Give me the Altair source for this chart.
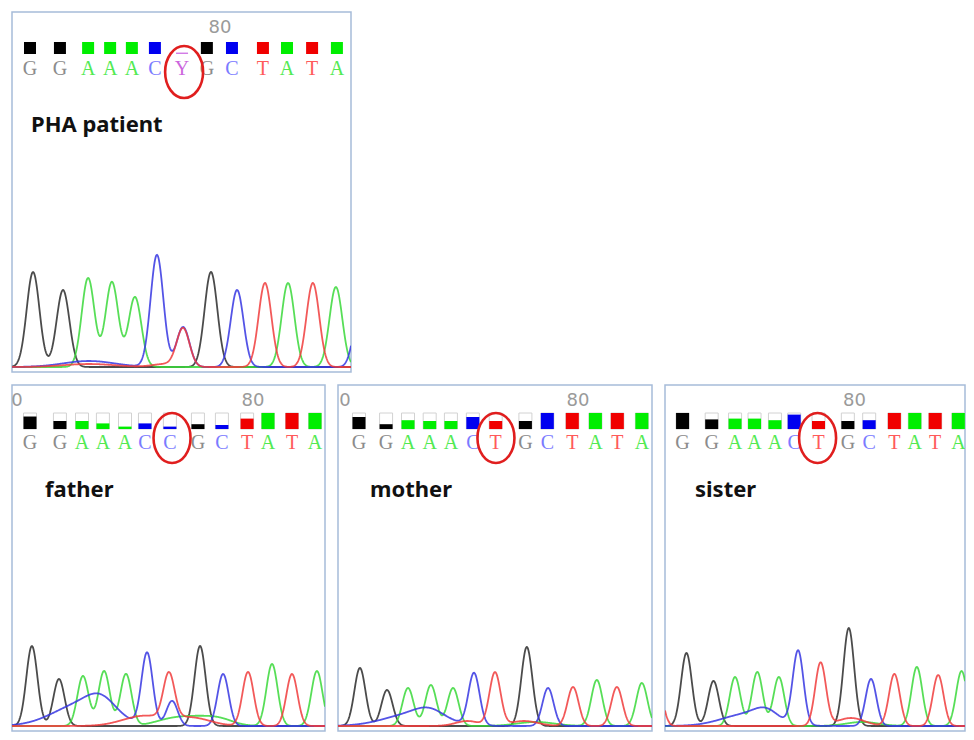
import altair as alt
import numpy as np
import pandas as pd

# ---------------- data ----------------
patient_calls = list("GGAAACYGCTATA")
father_calls = list("GGAAACCGCTATA")
mother_calls = list("GGAAACTGCTATA")
sister_calls = list("GGAAACTGCTATA")

# base-call positions (in base-index units)
patient_pos = [0, 1.17, 2.27, 3.13, 3.98, 4.88, 5.94, 6.91, 7.89, 9.10, 10.04, 11.02, 11.99]
father_pos = [0, 1.26, 2.19, 3.07, 4.0, 4.84, 5.89, 7.07, 8.08, 9.14, 10.02, 11.03, 12.0]
mother_pos = [0, 1.15, 2.08, 3.0, 3.9, 4.83, 5.8, 7.06, 7.99, 9.05, 10.03, 10.96, 12.0]
sister_pos = [-0.04, 1.23, 2.25, 3.1, 3.99, 4.83, 5.89, 7.17, 8.1, 9.2, 10.09, 10.98, 11.99]

# call quality (fraction of the quality box that is filled)
patient_qual = [1, 1, 1, 1, 1, 1, 0.12, 1, 1, 1, 1, 1, 1]
father_qual = [0.78, 0.5, 0.5, 0.35, 0.15, 0.35, 0.15, 0.3, 0.25, 0.65, 1, 1, 1]
mother_qual = [0.75, 0.3, 0.55, 0.5, 0.5, 0.75, 0.5, 0.5, 1, 1, 1, 1, 1]
sister_qual = [1, 0.6, 0.65, 0.65, 0.55, 0.9, 0.5, 0.5, 0.55, 1, 1, 1, 1]

# scan ruler labels (position, text)
patient_ticks = [(7.42, "80")]
father_ticks = [(-0.55, "0"), (9.39, "80")]
mother_ticks = [(-0.59, "0"), (9.29, "80")]
sister_ticks = [(7.46, "80")]

# chromatogram peaks per dye: (position, height[, width])
patient_peaks = {
    "G": [(0.12, 95), (1.29, 77), (7.07, 95)],
    "A": [(2.27, 89), (3.20, 85), (4.10, 70), (10.08, 84), (11.95, 80)],
    "C": [(4.96, 112), (5.98, 40), (8.09, 77), (12.9, 60), (2.3, 6, 1.0)],
    "T": [(5.98, 38), (9.18, 84), (11.05, 84), (2.3, 3, 1.0), (5.3, 3, 0.5)],
}
father_peaks = {
    "G": [(0.08, 80), (1.22, 47), (7.16, 80)],
    "A": [(2.23, 50), (3.12, 55), (4.04, 52), (10.19, 62), (12.08, 55),
          (5.9, 6, 0.7), (7.0, 7, 0.7), (8.0, 6, 0.6)],
    "C": [(4.93, 72), (5.98, 25), (8.13, 52), (2.2, 22, 1.2), (3.0, 14, 0.6)],
    "T": [(5.85, 45), (9.18, 54), (11.03, 52), (4.8, 10, 0.9), (6.8, 8, 0.8)],
}
mother_peaks = {
    "G": [(0.04, 58), (1.19, 36), (7.12, 79)],
    "A": [(2.08, 38), (3.05, 41), (3.99, 38), (10.09, 46), (12.0, 43), (7.5, 4, 0.8)],
    "C": [(4.88, 52), (8.02, 38), (2.3, 12, 1.2), (3.0, 8, 0.6)],
    "T": [(5.77, 53), (9.08, 39), (10.94, 39), (4.6, 5, 0.5), (7.0, 5, 0.6)],
}
sister_peaks = {
    "G": [(0.13, 73), (1.31, 45), (7.21, 98)],
    "A": [(2.25, 49), (3.22, 54), (4.16, 49), (10.18, 59), (12.13, 55), (7.8, 4, 0.7)],
    "C": [(5.0, 74), (8.18, 47), (2.8, 12, 1.1), (3.6, 9, 0.5)],
    "T": [(-1.15, 45), (5.98, 63), (9.2, 52), (11.11, 51), (7.3, 8, 0.6)],
}

# ---------------- styles ----------------
TRACE_COL = {"G": "#2c2c2c", "A": "#3ad83a", "C": "#3636e2", "T": "#f03c3c"}
LETTER_COL = {"G": "#8c8c8c", "A": "#52ea52", "C": "#7b7bff", "T": "#ff5a5a", "Y": "#cc66dd"}
SQUARE_COL = {"G": "#000000", "A": "#00ee00", "C": "#0000f0", "T": "#f00000", "Y": "#d27ce6"}


def ellipse_path(ratio):
    return (f"M {-ratio} 0 A {ratio} 1 0 1 1 {ratio} 0 "
            f"A {ratio} 1 0 1 1 {-ratio} 0 Z")


def trace_df(peaks, domain, w0):
    xs = np.linspace(domain[0], domain[1], 700)
    parts = []
    for ch, plist in peaks.items():
        y = np.zeros_like(xs)
        for p in plist:
            w = p[2] if len(p) > 2 else w0
            y = y + p[1] * np.exp(-(xs - p[0]) ** 2 / (2 * w * w))
        parts.append(pd.DataFrame({"x": xs, "y": y, "ch": ch, "col": TRACE_COL[ch]}))
    return pd.concat(parts, ignore_index=True)


def panel(calls, pos, qual, ticks, peaks, label, *, width, height, base_off, domain, w0,
          sq_top, sq_bot, sq_w, letter_y, tick_y, ell_pos, ell_y, ell_h, ell_ratio,
          label_x, label_y, outline):
    ppi = width / (domain[1] - domain[0])
    xsc = alt.Scale(domain=domain, nice=False, zero=False)
    xenc = lambda f: alt.X(f, scale=xsc, axis=None)

    lines = alt.Chart(trace_df(peaks, domain, w0)).mark_line(
        clip=True, strokeWidth=1.8, strokeOpacity=0.85
    ).encode(
        x=xenc("x:Q"),
        y=alt.Y("y:Q", scale=alt.Scale(domain=[-base_off, height - base_off], nice=False, zero=False),
                axis=None),
        color=alt.Color("col:N", scale=None),
        detail="ch:N",
        order="x:Q",
    )

    cdf = pd.DataFrame({"pos": pos, "b": calls, "q": qual})
    cdf["lcol"] = [LETTER_COL[b] for b in calls]
    cdf["scol"] = [SQUARE_COL[b] for b in calls]
    hw = (sq_w / 2) / ppi
    base = alt.Chart(cdf).transform_calculate(
        xl=f"datum.pos - {hw}", xr=f"datum.pos + {hw}"
    )
    layers = [lines]
    if outline:
        layers.append(base.mark_rect(fill="white", fillOpacity=0, stroke="#d2d2d2", strokeWidth=1,
                                     clip=True).encode(
            x=xenc("xl:Q"), x2="xr:Q", y=alt.value(sq_top), y2=alt.value(sq_bot)))
    layers.append(base.mark_rect(clip=True).encode(
        x=xenc("xl:Q"), x2="xr:Q",
        y=alt.Y("q:Q", scale=alt.Scale(domain=[0, 1], range=[sq_bot, sq_top]), axis=None),
        y2=alt.datum(0),
        color=alt.Color("scol:N", scale=None),
    ))
    layers.append(alt.Chart(cdf).mark_text(
        font="Liberation Serif", fontSize=20, align="center", baseline="middle", clip=True
    ).encode(x=xenc("pos:Q"), y=alt.value(letter_y), text="b:N",
             color=alt.Color("lcol:N", scale=None)))

    tdf = pd.DataFrame({"pos": [t[0] for t in ticks], "t": [t[1] for t in ticks]})
    layers.append(alt.Chart(tdf).mark_text(
        font="DejaVu Sans", fontSize=18, color="#9a9a9a", align="center", baseline="middle",
        clip=True
    ).encode(x=xenc("pos:Q"), y=alt.value(tick_y), text="t:N"))

    edf = pd.DataFrame({"pos": [ell_pos]})
    layers.append(alt.Chart(edf).mark_point(
        shape=ellipse_path(ell_ratio), size=ell_h * ell_h, filled=False,
        stroke="#e01e1e", strokeWidth=2.6, opacity=1
    ).encode(x=xenc("pos:Q"), y=alt.value(ell_y)))

    ldf = pd.DataFrame({"label": [label]})
    layers.append(alt.Chart(ldf).mark_text(
        font="Noto Sans", fontWeight="bold", fontSize=22, color="#111111",
        align="left", baseline="middle"
    ).encode(x=alt.value(label_x), y=alt.value(label_y), text="label:N"))

    return alt.layer(*layers).properties(width=width, height=height).resolve_scale(y="independent")


p_patient = panel(patient_calls, patient_pos, patient_qual, patient_ticks, patient_peaks, "PHA patient",
                  width=339, height=360, base_off=5, domain=[-0.703, 12.54], w0=0.25,
                  sq_top=30, sq_bot=42, sq_w=12, letter_y=57, tick_y=16,
                  ell_pos=6.02, ell_y=60, ell_h=52, ell_ratio=0.73,
                  label_x=19, label_y=113, outline=False)

low = dict(height=346, base_off=5, w0=0.235, sq_top=28, sq_bot=44, sq_w=13, letter_y=58, tick_y=16,
           ell_y=53, ell_h=50, ell_ratio=0.74, label_y=105, outline=True)

p_father = panel(father_calls, father_pos, father_qual, father_ticks, father_peaks, "father",
                 width=313, domain=[-0.758, 12.42], ell_pos=5.98, label_x=33, **low)
p_mother = panel(mother_calls, mother_pos, mother_qual, mother_ticks, mother_peaks, "mother",
                 width=314, domain=[-0.89, 12.43], ell_pos=5.81, label_x=32, **low)
p_sister = panel(sister_calls, sister_pos, sister_qual, sister_ticks, sister_peaks, "sister",
                 width=300, domain=[-0.806, 12.28], ell_pos=5.85, label_x=30, **low)

row = alt.hconcat(p_father, p_mother, p_sister, spacing=13, bounds="flush")
chart = alt.vconcat(p_patient, row, spacing=13, bounds="flush").properties(
    padding={"left": 3, "top": 3, "right": 0, "bottom": 0}
).configure_view(stroke="#a6bcd9", strokeWidth=1.5)

chart.save("out.html", embed_options={"renderer": "svg", "actions": False})
